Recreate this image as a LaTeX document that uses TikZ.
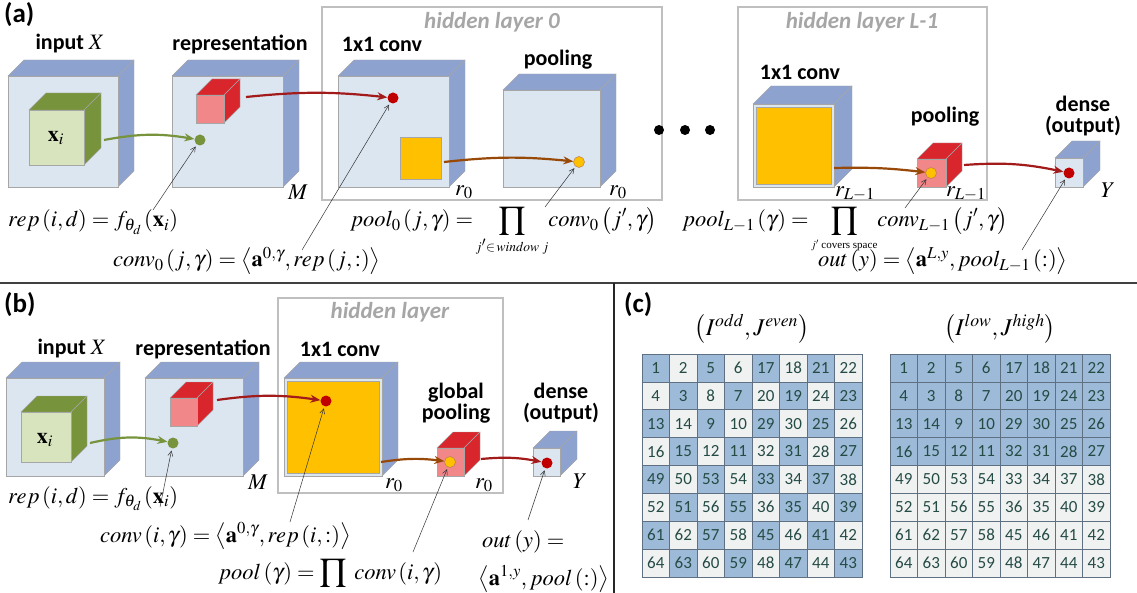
\documentclass[tikz,border=0pt]{standalone}
\usepackage{mathptmx}
\usepackage[no-math]{fontspec}
\setmainfont{Liberation Serif}
\setsansfont{Carlito}
\usetikzlibrary{arrows.meta}
\definecolor{lblue}{HTML}{DCE6F1}
\definecolor{sblue}{HTML}{8EA2D0}
\definecolor{lgreen}{HTML}{D7E4BD}
\definecolor{dgreen}{HTML}{77933C}
\definecolor{lred}{HTML}{F2878A}
\definecolor{dred}{HTML}{D9262C}
\definecolor{ylw}{HTML}{FFC000}
\definecolor{dotred}{HTML}{C00000}
\definecolor{arrred}{HTML}{A31A1A}
\definecolor{brown}{HTML}{984807}
\definecolor{hgray}{HTML}{A6A6A6}
\definecolor{cblue}{HTML}{9DBBD8}
\definecolor{cwhite}{HTML}{F0F2F2}
\definecolor{numc}{HTML}{254B45}
\newcommand\cub[7]{%
  \fill[#7,draw=gray!70,line width=0.4pt] (#1,#2)--({#1+#5},{#2-#5})--({#1+#3+#5},{#2-#5})--({#1+#3},#2)--cycle;
  \fill[#7,draw=gray!70,line width=0.4pt] ({#1+#3},#2)--({#1+#3+#5},{#2-#5})--({#1+#3+#5},{#2+#4-#5})--({#1+#3},{#2+#4})--cycle;
  \fill[#6,draw=gray!70,line width=0.4pt] (#1,#2) rectangle ({#1+#3},{#2+#4});}
\tikzset{
 lbl/.style={font=\sffamily\bfseries\fontsize{22}{23}\selectfont},
 hid/.style={font=\sffamily\bfseries\itshape\fontsize{23}{24}\selectfont,text=hgray},
 fm/.style={font=\fontsize{22.5}{25}\selectfont,inner sep=0pt},
 arr/.style={-{Stealth[length=10pt,width=8pt]},line width=2.2pt},
 ptr/.style={-{Straight Barb[length=5pt,width=5pt]},line width=0.5pt,draw=black!80,shorten >=2pt},
 dot/.style={circle,inner sep=0pt,minimum size=11pt},
 hbox/.style={draw=black!25,line width=1.5pt},
 num/.style={font=\sffamily\fontsize{17}{17}\selectfont,text=numc},
 panel/.style={font=\sffamily\bfseries\fontsize{27}{28}\selectfont,inner sep=0pt,anchor=north west}
}
\begin{document}
\begin{tikzpicture}[x=1pt,y=-1pt]
\useasboundingbox (0,0) rectangle (1137,593);
% ---------- (a) ----------
\node[panel] (pa) at (4,2) {(a)};
\draw[hbox] (322,7) rectangle (662,200);
\draw[hbox] (738,7) rectangle (987,200);
\node[hid] (h0) at (492,22) {hidden layer 0};
\node[hid] (hl) at (862,22) {hidden layer L-1};
\cub{8}{76}{110}{111}{16}{lblue}{sblue}
\cub{29}{110}{55}{55}{17}{lgreen}{dgreen}
\node (xi) at (56,138) {\fontsize{22}{23}\selectfont$\mathbf{x}_i$};
\cub{172}{76}{111}{111}{16}{lblue}{sblue}
\cub{196}{95}{28}{28}{16}{lred}{dred}
\cub{338}{76}{111}{111}{16}{lblue}{sblue}
\fill[ylw,draw=gray!70] (400,137) rectangle (441,179);
\cub{503}{90}{97}{97}{16}{lblue}{sblue}
\cub{753}{104}{81}{83}{18}{lblue}{sblue}
\fill[ylw,draw=gray!70] (756,107) rectangle (831,184);
\cub{917}{159}{29}{28}{16}{lred}{dred}
\cub{1055}{158}{28}{29}{17}{lblue}{sblue}
\node[lbl] (la1) at (70,44) {input $X$};
\node[lbl] (la2) at (240,44) {representation};
\node[lbl] (la3) at (382,44) {1x1 conv};
\node[lbl] (la4) at (558,60) {pooling};
\node[lbl] (la5) at (800,72) {1x1 conv};
\node[lbl] (la6) at (945,117) {pooling};
\node[lbl,align=center] (la7) at (1083,116) {dense\\[-2pt](output)};
\node[fm] (ma) at (298,192) {$M$};
\node[fm] (r0a) at (464,192) {$r_0$};
\node[fm] (r0b) at (618,192) {$r_0$};
\node[fm] (rla) at (855,194) {$r_{L-1}$};
\node[fm] (rlb) at (966,194) {$r_{L-1}$};
\node[fm] (ya) at (1108,190) {$Y$};
\foreach \x/\n in {659/d1,685/d2,710/d3}{\node[circle,fill=black,inner sep=0pt,minimum size=10pt] (\n) at (\x,130) {};}
\node[dot,fill=dgreen] (g1) at (200,140) {};
\node[dot,fill=dotred] (r1) at (393,98) {};
\node[dot,fill=ylw,draw=brown!70,line width=0.5pt] (o1) at (579,162) {};
\node[dot,fill=ylw,draw=brown!70,line width=0.5pt] (o2) at (931,173) {};
\node[dot,fill=dotred] (r2) at (1069,173) {};
\coordinate (sg1) at (104,140);
\coordinate (sr1) at (246,97);
\coordinate (sy1) at (444,162);
\coordinate (sy2) at (834,168);
\coordinate (sr2) at (964,165);
\draw[arr,dgreen] (sg1) to[bend left=10] (g1);
\draw[arr,arrred] (sr1) to[bend left=6] (r1);
\draw[arr,brown] (sy1) to[bend left=6] (o1);
\draw[arr,brown] (sy2) to[bend left=4] (o2);
\draw[arr,arrred] (sr2) to[bend left=8] (r2);
\node[fm,anchor=base west] (fa1) at (8,227) {$rep\left(i,d\right)=f_{\theta_d}\left(\mathbf{x}_i\right)$};
\node[fm,anchor=base west] (fa2) at (113,267) {$conv_0\left(j,\gamma\right)=\left\langle \mathbf{a}^{0,\gamma},rep\left(j,:\right)\right\rangle$};
\node[fm,anchor=base west] (fa3) at (350,227) {$pool_0\left(j,\gamma\right)=\!\displaystyle\prod_{\scriptscriptstyle j'\in\, window\; j}\! conv_0\left(j',\gamma\right)$};
\node[fm,anchor=base west] (fa4) at (682,227) {$pool_{L-1}\left(\gamma\right)=\!\displaystyle\prod_{\mbox{\fontsize{11}{12}\selectfont$j'$ covers space}}\! conv_{L-1}\left(j',\gamma\right)$};
\node[fm,anchor=base west] (fa5) at (818,267) {$out\left(y\right)=\left\langle \mathbf{a}^{L,y},pool_{L-1}\left(:\right)\right\rangle$};
\coordinate (pa1) at (153,210);
\coordinate (pa2) at (302,250);
\coordinate (pa3) at (545,207);
\coordinate (pa4) at (905,208);
\coordinate (pa5) at (1022,250);
\draw[ptr] (pa1) -- (g1);
\draw[ptr] (pa2) -- (r1);
\draw[ptr] (pa3) -- (o1);
\draw[ptr] (pa4) -- (o2);
\draw[ptr] (pa5) -- (r2);
% dividers
\coordinate (hl1) at (0,283); \coordinate (hl2) at (1137,283);
\coordinate (vl1) at (614,283); \coordinate (vl2) at (614,593);
\draw[line width=2.5pt,black!75] (hl1) -- (hl2);
\draw[line width=1.5pt,black!85] (vl1) -- (vl2);
% ---------- (b) ----------
\node[panel] (pb) at (4,292) {(b)};
\draw[hbox] (278,298) rectangle (503,493);
\node[hid] (hb) at (390,312) {hidden layer};
\cub{6}{378}{98}{98}{16}{lblue}{sblue}
\cub{21}{412}{50}{50}{16}{lgreen}{dgreen}
\node (xib) at (45,440) {\fontsize{22}{23}\selectfont$\mathbf{x}_i$};
\cub{145}{378}{98}{98}{16}{lblue}{sblue}
\cub{170}{398}{27}{28}{16}{lred}{dred}
\cub{284}{378}{98}{98}{16}{lblue}{sblue}
\fill[ylw,draw=gray!70] (287,381) rectangle (379,473);
\cub{437}{448}{27}{28}{16}{lred}{dred}
\cub{533}{448}{27}{28}{17}{lblue}{sblue}
\node[lbl] (lb1) at (72,349) {input $X$};
\node[lbl] (lb2) at (203,349) {representation};
\node[lbl] (lb3) at (340,349) {1x1 conv};
\node[lbl,align=center] (lb4) at (456,403) {global\\[-2pt]pooling};
\node[lbl,align=center] (lb5) at (561,403) {dense\\[-2pt](output)};
\node[fm] (mb) at (258,482) {$M$};
\node[fm] (r0c) at (394,485) {$r_0$};
\node[fm] (r0d) at (484,485) {$r_0$};
\node[fm] (yb) at (580,481) {$Y$};
\node[dot,fill=dgreen] (g2) at (173,443) {};
\node[dot,fill=dotred] (r3) at (326,401) {};
\node[dot,fill=ylw,draw=brown!70,line width=0.5pt] (o3) at (450,462) {};
\node[dot,fill=dotred] (r4) at (547,463) {};
\coordinate (sg2) at (90,443);
\coordinate (sr3) at (217,400);
\coordinate (sy3) at (381,462);
\coordinate (sr4) at (481,459);
\draw[arr,dgreen] (sg2) to[bend left=12] (g2);
\draw[arr,arrred] (sr3) to[bend left=8] (r3);
\draw[arr,brown] (sy3) to[bend left=8] (o3);
\draw[arr,arrred] (sr4) to[bend left=8] (r4);
\node[fm,anchor=base west] (fb1) at (8,503) {$rep\left(i,d\right)=f_{\theta_d}\left(\mathbf{x}_i\right)$};
\node[fm,anchor=base west] (fb2) at (100,542) {$conv\left(i,\gamma\right)=\left\langle \mathbf{a}^{0,\gamma},rep\left(i,:\right)\right\rangle$};
\node[fm,anchor=base west] (fb3) at (218,579) {$pool\left(\gamma\right)=\displaystyle\prod\ conv\left(i,\gamma\right)$};
\node[fm,anchor=base west] (fb4) at (482,547) {$out\left(y\right)=$};
\node[fm,anchor=base west] (fb5) at (478,585) {$\left\langle \mathbf{a}^{1,y},pool\left(:\right)\right\rangle$};
\coordinate (pb1) at (160,507);
\coordinate (pb2) at (290,522);
\coordinate (pb3) at (413,552);
\coordinate (pb4) at (528,520);
\draw[ptr] (pb1) -- (g2);
\draw[ptr] (pb2) -- (r3);
\draw[ptr] (pb3) -- (o3);
\draw[ptr] (pb4) -- (r4);
% ---------- (c) ----------
\node[panel] (pc) at (624,292) {(c)};
\node[fm] (tc1) at (752,329) {\fontsize{24}{26}\selectfont$\left(I^{odd},J^{even}\right)$};
\node[fm] (tc2) at (1000,329) {\fontsize{24}{26}\selectfont$\left(I^{low},J^{high}\right)$};
\def\cw{27.5}\def\ch{27.85}
\foreach \row [count=\r from 0] in {{1,2,5,6,17,18,21,22},{4,3,8,7,20,19,24,23},{13,14,9,10,29,30,25,26},{16,15,12,11,32,31,28,27},{49,50,53,54,33,34,37,38},{52,51,56,55,36,35,40,39},{61,62,57,58,45,46,41,42},{64,63,60,59,48,47,44,43}}{
  \foreach \v [count=\c from 0] in \row {
    \pgfmathtruncatemacro\pty{mod(\r+\c,2)}
    \ifnum\pty=0 \def\fc{cblue}\else\def\fc{cwhite}\fi
    \ifnum\r<4 \def\fd{cblue}\else\def\fd{cwhite}\fi
    \fill[\fc,draw=black!40!cblue,line width=0.6pt] ({642+\c*\cw},{354+\r*\ch}) rectangle ++(\cw,\ch);
    \node[num] (L\r-\c) at ({642+\c*\cw+\cw/2},{354+\r*\ch+\ch/2}) {\v};
    \fill[\fd,draw=black!40!cblue,line width=0.6pt] ({890+\c*\cw},{354+\r*\ch}) rectangle ++(\cw,\ch);
    \node[num] (R\r-\c) at ({890+\c*\cw+\cw/2},{354+\r*\ch+\ch/2}) {\v};
  }}
\end{tikzpicture}
\end{document}
